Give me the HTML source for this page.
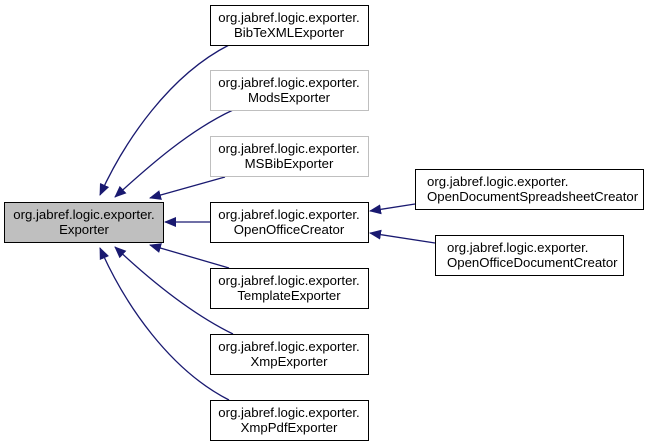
<!DOCTYPE html>
<html><head><meta charset="utf-8"><style>
html,body{margin:0;padding:0;background:#fff;}
svg{display:block;}
text{font-family:"Liberation Sans",Arial,sans-serif;font-size:13.2px;fill:#000;}
</style></head><body>
<svg width="648" height="444" viewBox="0 0 648 444" xmlns="http://www.w3.org/2000/svg">
<defs>
<marker id="a" markerWidth="12" markerHeight="10" refX="11" refY="5" orient="auto" markerUnits="userSpaceOnUse">
<path d="M0,0 L12,5 L0,10 Z" fill="#191970"/>
</marker>
</defs>
<g fill="none" stroke="#191970" stroke-width="1.3">
<path d="M229,45 C170,75 125,140 100,195" marker-end="url(#a)"/>
<path d="M233,110 C190,130 150,165 115,197" marker-end="url(#a)"/>
<path d="M225,177 L150,198" marker-end="url(#a)"/>
<path d="M210,222 L165,222" marker-end="url(#a)"/>
<path d="M229,268 L150,245" marker-end="url(#a)"/>
<path d="M233,334 C190,313 150,280 115,247" marker-end="url(#a)"/>
<path d="M229,400 C170,370 125,305 100,248" marker-end="url(#a)"/>
<path d="M415,204 L370,211" marker-end="url(#a)"/>
<path d="M435,243 L370,233" marker-end="url(#a)"/>
</g>
<g stroke-width="1">
<rect x="4.5" y="202.5" width="159" height="40" fill="#bfbfbf" stroke="#000"/>
<rect x="210.5" y="5.5" width="158" height="40" fill="#fff" stroke="#000"/>
<rect x="210.5" y="70.5" width="158" height="40" fill="#fff" stroke="#bfbfbf"/>
<rect x="210.5" y="136.5" width="158" height="40" fill="#fff" stroke="#bfbfbf"/>
<rect x="210.5" y="202.5" width="158" height="40" fill="#fff" stroke="#000"/>
<rect x="210.5" y="268.5" width="158" height="40" fill="#fff" stroke="#000"/>
<rect x="210.5" y="334.5" width="158" height="40" fill="#fff" stroke="#000"/>
<rect x="210.5" y="400.5" width="158" height="40" fill="#fff" stroke="#000"/>
<rect x="415.5" y="169.5" width="228" height="40" fill="#fff" stroke="#000"/>
<rect x="435.5" y="235.5" width="188" height="40" fill="#fff" stroke="#000"/>
</g>
<g text-anchor="middle">
<text x="84" y="219">org.jabref.logic.exporter.</text><text x="84" y="234">Exporter</text>
<text x="289" y="22">org.jabref.logic.exporter.</text><text x="289" y="37">BibTeXMLExporter</text>
<text x="289" y="87">org.jabref.logic.exporter.</text><text x="289" y="102">ModsExporter</text>
<text x="289" y="153">org.jabref.logic.exporter.</text><text x="289" y="168">MSBibExporter</text>
<text x="289" y="219">org.jabref.logic.exporter.</text><text x="289" y="234">OpenOfficeCreator</text>
<text x="289" y="285">org.jabref.logic.exporter.</text><text x="289" y="300">TemplateExporter</text>
<text x="289" y="351">org.jabref.logic.exporter.</text><text x="289" y="366">XmpExporter</text>
<text x="289" y="417">org.jabref.logic.exporter.</text><text x="289" y="432">XmpPdfExporter</text>
</g>
<text x="427" y="186">org.jabref.logic.exporter.</text><text x="427" y="201">OpenDocumentSpreadsheetCreator</text>
<text x="447" y="252">org.jabref.logic.exporter.</text><text x="447" y="267">OpenOfficeDocumentCreator</text>
</svg>
</body></html>
